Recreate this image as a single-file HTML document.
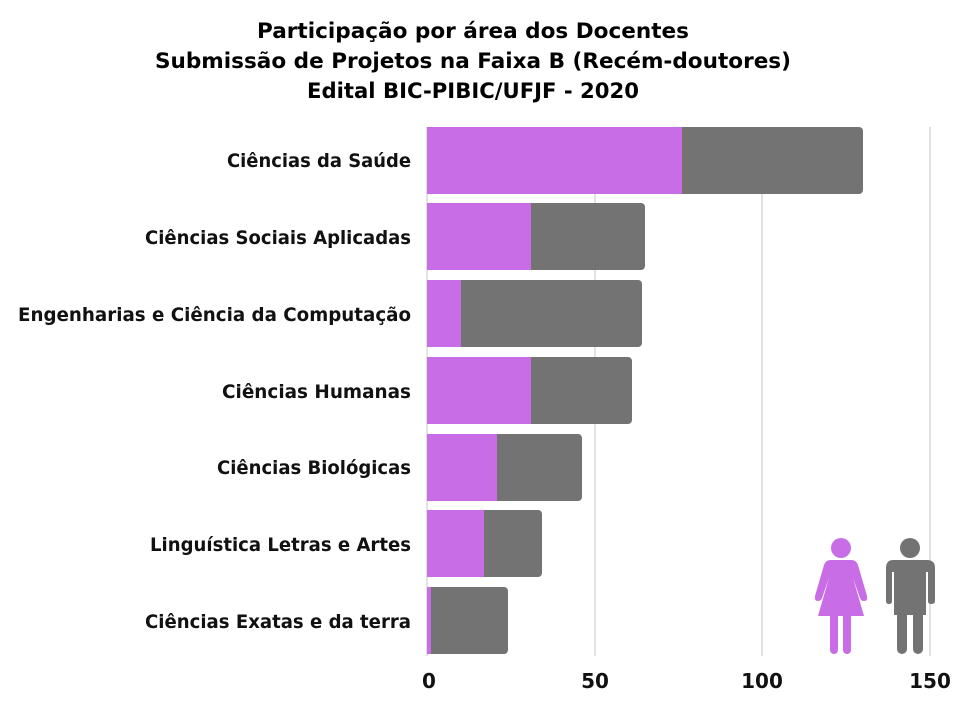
<!DOCTYPE html>
<html><head><meta charset="utf-8"><style>html,body{margin:0;padding:0;background:#fff}</style></head>
<body>
<svg width="970" height="698" xmlns="http://www.w3.org/2000/svg">
<g font-family="'DejaVu Sans',sans-serif" font-weight="bold" fill="#000">
<text x="473" y="38" font-size="21" text-anchor="middle" textLength="432" lengthAdjust="spacingAndGlyphs">Participação por área dos Docentes</text>
<text x="473" y="68" font-size="21" text-anchor="middle" textLength="636" lengthAdjust="spacingAndGlyphs">Submissão de Projetos na Faixa B (Recém-doutores)</text>
<text x="473" y="98" font-size="21" text-anchor="middle" textLength="332" lengthAdjust="spacingAndGlyphs">Edital BIC-PIBIC/UFJF - 2020</text>
</g>
<g stroke="#d9d9d9" stroke-width="1.5">
<line x1="427" y1="127" x2="427" y2="656"/><line x1="595" y1="127" x2="595" y2="656"/>
<line x1="762" y1="127" x2="762" y2="656"/><line x1="930" y1="127" x2="930" y2="656"/>
</g>
<g font-family="'DejaVu Sans',sans-serif" font-weight="bold" font-size="19" text-anchor="end" fill="#111">
<text x="411" y="167" textLength="184" lengthAdjust="spacingAndGlyphs">Ciências da Saúde</text>
<text x="411" y="244" textLength="266" lengthAdjust="spacingAndGlyphs">Ciências Sociais Aplicadas</text>
<text x="411" y="321" textLength="393" lengthAdjust="spacingAndGlyphs">Engenharias e Ciência da Computação</text>
<text x="411" y="398" textLength="189" lengthAdjust="spacingAndGlyphs">Ciências Humanas</text>
<text x="411" y="474" textLength="194" lengthAdjust="spacingAndGlyphs">Ciências Biológicas</text>
<text x="411" y="551" textLength="261" lengthAdjust="spacingAndGlyphs">Linguística Letras e Artes</text>
<text x="411" y="628" textLength="266" lengthAdjust="spacingAndGlyphs">Ciências Exatas e da terra</text>
</g>
<g font-family="'DejaVu Sans',sans-serif" font-weight="bold" font-size="20" text-anchor="middle" fill="#111">
<text x="429" y="688">0</text><text x="595" y="688">50</text><text x="762" y="688">100</text><text x="930" y="688">150</text>
</g>
<g>
<rect x="427" y="127" width="436" height="67" rx="4" fill="#737373"/><rect x="427" y="127" width="255" height="67" fill="#c86de6"/>
<rect x="427" y="203" width="218" height="67" rx="4" fill="#737373"/><rect x="427" y="203" width="104" height="67" fill="#c86de6"/>
<rect x="427" y="280" width="215" height="67" rx="4" fill="#737373"/><rect x="427" y="280" width="34" height="67" fill="#c86de6"/>
<rect x="427" y="357" width="205" height="67" rx="4" fill="#737373"/><rect x="427" y="357" width="104" height="67" fill="#c86de6"/>
<rect x="427" y="434" width="155" height="67" rx="4" fill="#737373"/><rect x="427" y="434" width="70" height="67" fill="#c86de6"/>
<rect x="427" y="510" width="115" height="67" rx="4" fill="#737373"/><rect x="427" y="510" width="57" height="67" fill="#c86de6"/>
<rect x="427" y="587" width="81" height="67" rx="4" fill="#737373"/><rect x="427" y="587" width="4" height="67" fill="#c86de6"/>
</g>
<g fill="#c86de6">
<circle cx="841" cy="548" r="10"/>
<path d="M830 560 H852 Q856 560 858 565 L867 596 Q868 601 864 601 Q861 601 860 598 L853 578 L864 616 H818 L829 578 L822 598 Q821 601 818 601 Q814 601 815 596 L824 565 Q826 560 830 560Z"/>
<rect x="830" y="612" width="8" height="42" rx="4"/><rect x="843" y="612" width="8" height="42" rx="4"/>
</g>
<g fill="#737373">
<circle cx="910" cy="548" r="10"/>
<path d="M893 560 H927 Q935 560 935 568 V601 Q935 604 931 604 Q928 604 928 601 V572 H926 V615 H894 V572 H892 V601 Q892 604 889 604 Q886 604 886 601 V568 Q886 560 893 560Z"/>
<rect x="897" y="605" width="10" height="49" rx="5"/><rect x="913" y="605" width="10" height="49" rx="5"/>
</g>
</svg>
</body></html>
